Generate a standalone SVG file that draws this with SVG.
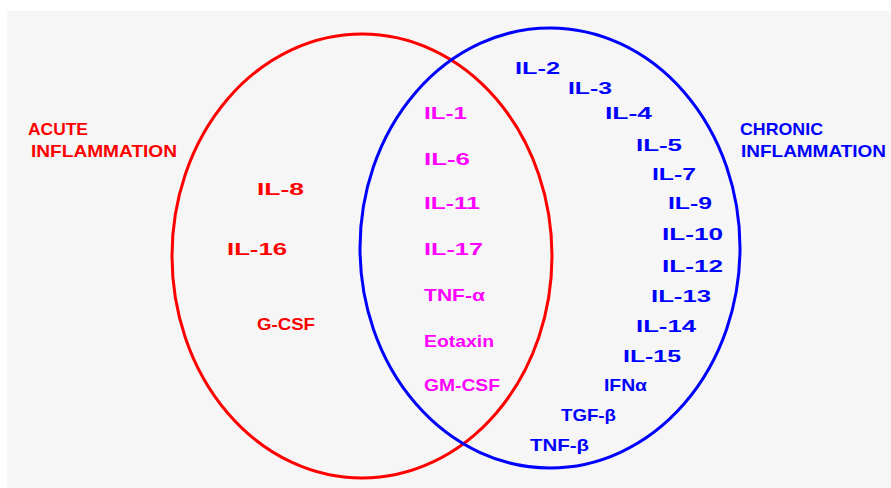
<svg xmlns="http://www.w3.org/2000/svg" width="891" height="488" viewBox="0 0 891 488">
<style>
.t{font-family:"Liberation Sans",Arial,sans-serif;font-weight:bold;font-size:17px}
.r{fill:#ff0000}.m{fill:#ff00ff}.b{fill:#0000ff}
.e{fill:none;stroke-width:3}
</style>
<rect width="891" height="488" fill="#ffffff"/>
<rect x="7" y="11" width="884" height="477" fill="#f6f6f6"/>
<g id="acute-set">
<ellipse class="e" cx="362" cy="256" rx="190" ry="222" stroke="#ff0000"/>
</g>
<g id="chronic-set">
<ellipse class="e" cx="550" cy="248" rx="190" ry="220" stroke="#0000ff"/>
</g>
<g id="acute-label" class="t r">
<text x="28" y="135" textLength="60" lengthAdjust="spacingAndGlyphs">ACUTE</text>
<text x="31" y="157" textLength="146" lengthAdjust="spacingAndGlyphs">INFLAMMATION</text>
</g>
<g id="chronic-label" class="t b">
<text x="740" y="135" textLength="83" lengthAdjust="spacingAndGlyphs">CHRONIC</text>
<text x="741" y="157" textLength="145" lengthAdjust="spacingAndGlyphs">INFLAMMATION</text>
</g>
<g id="acute-only" class="t r">
<text x="257" y="195" textLength="47" lengthAdjust="spacingAndGlyphs">IL-8</text>
<text x="227" y="255" textLength="60" lengthAdjust="spacingAndGlyphs">IL-16</text>
<text x="257" y="330" textLength="58" lengthAdjust="spacingAndGlyphs">G-CSF</text>
</g>
<g id="both" class="t m">
<text x="424" y="119" textLength="43" lengthAdjust="spacingAndGlyphs">IL-1</text>
<text x="424" y="165" textLength="46" lengthAdjust="spacingAndGlyphs">IL-6</text>
<text x="424" y="209" textLength="56" lengthAdjust="spacingAndGlyphs">IL-11</text>
<text x="424" y="255" textLength="59" lengthAdjust="spacingAndGlyphs">IL-17</text>
<text x="424" y="301" textLength="61" lengthAdjust="spacingAndGlyphs">TNF-α</text>
<text x="424" y="347" textLength="70" lengthAdjust="spacingAndGlyphs">Eotaxin</text>
<text x="424" y="391" textLength="76" lengthAdjust="spacingAndGlyphs">GM-CSF</text>
</g>
<g id="chronic-only" class="t b">
<text x="515" y="74" textLength="45" lengthAdjust="spacingAndGlyphs">IL-2</text>
<text x="568" y="94" textLength="44" lengthAdjust="spacingAndGlyphs">IL-3</text>
<text x="605" y="119" textLength="47" lengthAdjust="spacingAndGlyphs">IL-4</text>
<text x="636" y="151" textLength="46" lengthAdjust="spacingAndGlyphs">IL-5</text>
<text x="652" y="180" textLength="44" lengthAdjust="spacingAndGlyphs">IL-7</text>
<text x="668" y="209" textLength="44" lengthAdjust="spacingAndGlyphs">IL-9</text>
<text x="662" y="240" textLength="61" lengthAdjust="spacingAndGlyphs">IL-10</text>
<text x="662" y="272" textLength="61" lengthAdjust="spacingAndGlyphs">IL-12</text>
<text x="651" y="302" textLength="60" lengthAdjust="spacingAndGlyphs">IL-13</text>
<text x="636" y="332" textLength="60" lengthAdjust="spacingAndGlyphs">IL-14</text>
<text x="623" y="362" textLength="58" lengthAdjust="spacingAndGlyphs">IL-15</text>
<text x="604" y="391" textLength="43" lengthAdjust="spacingAndGlyphs">IFNα</text>
<text x="561" y="421" textLength="55" lengthAdjust="spacingAndGlyphs">TGF-β</text>
<text x="530" y="451" textLength="59" lengthAdjust="spacingAndGlyphs">TNF-β</text>
</g>
</svg>
